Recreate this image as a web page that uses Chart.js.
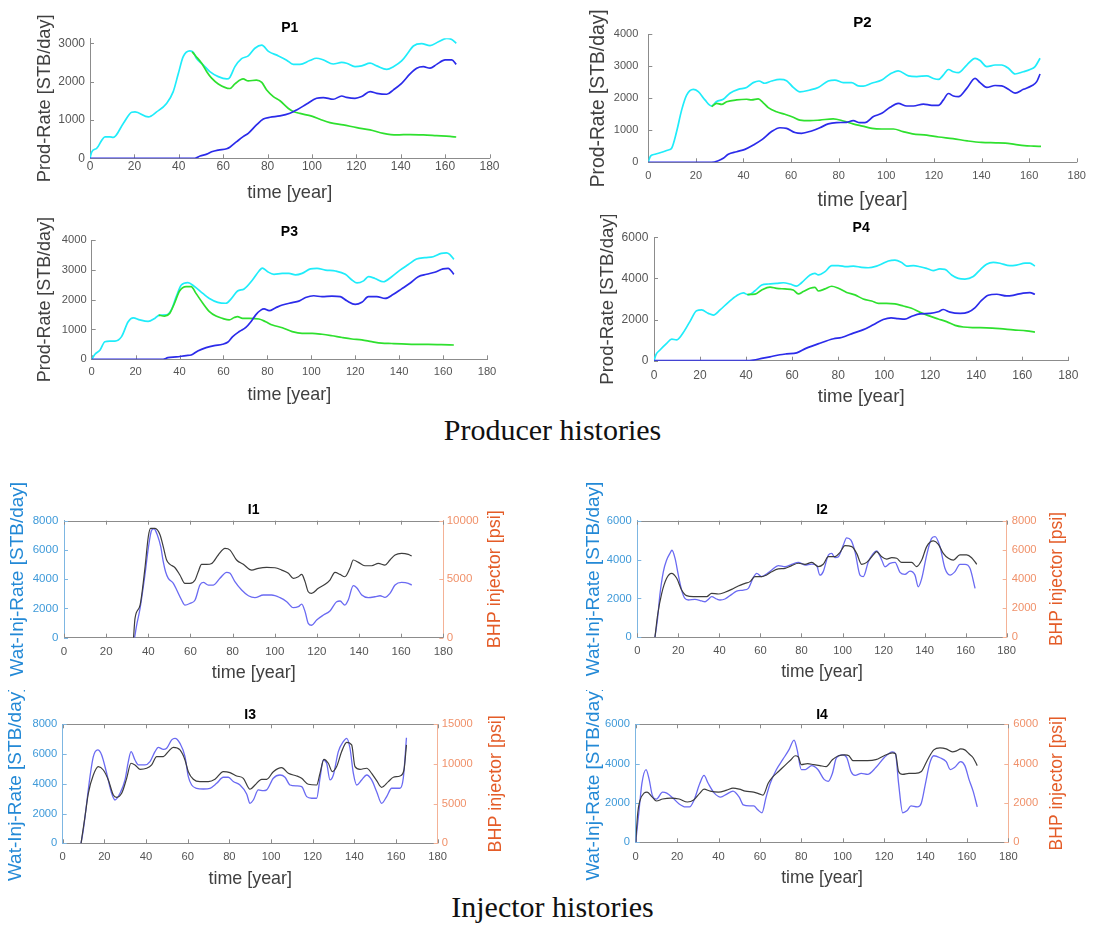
<!DOCTYPE html>
<html>
<head>
<meta charset="utf-8">
<title>Producer and injector histories</title>
<script src="https://cdn.jsdelivr.net/npm/chart.js@4.4.1/dist/chart.umd.min.js"></script>
<style>
  html, body { margin: 0; padding: 0; background: #fff; }
  body { position: relative; width: 1093px; height: 928px; overflow: hidden; }
  canvas { position: absolute; }
  .caption {
    position: absolute; left: 6px; width: 1093px; text-align: center;
    font-family: "Liberation Serif", "Times New Roman", serif;
    font-size: 30px; line-height: 34px; color: #111;
  }
</style>
</head>
<body>
<div class="caption" style="top:413px">Producer histories</div>
<div class="caption" style="top:890px">Injector histories</div>
<script>
/* ===============================
   TICKS
================================ */

const timeTicks = [0, 20, 40, 60, 80, 100, 120, 140, 160, 180];
const p1Ticks = [0, 1000, 2000, 3000];
const p2Ticks = [0, 1000, 2000, 3000, 4000];
const p3Ticks = [0, 1000, 2000, 3000, 4000];
const p4Ticks = [0, 2000, 4000, 6000];
const i1RateTicks = [0, 2000, 4000, 6000, 8000];
const i1BhpTicks = [0, 5000, 10000];
const i2RateTicks = [0, 2000, 4000, 6000];
const i2BhpTicks = [0, 2000, 4000, 6000, 8000];
const i3RateTicks = [0, 2000, 4000, 6000, 8000];
const i3BhpTicks = [0, 5000, 10000, 15000];
const i4RateTicks = [0, 2000, 4000, 6000];
const i4BhpTicks = [0, 2000, 4000, 6000];

/* ===============================
   PRODUCERS  (liquid / oil / water rate, STB/day)
================================ */

const p1LiquidYears = [0, 0.8, 3, 6.8, 9, 10.5, 15, 18.8, 20.3, 26.3, 30, 34.5, 37.5, 39.8, 42, 45, 46.6, 48, 51, 54, 57.8, 61.6, 63, 65.3, 68.3, 71.3, 74.3, 77.4, 80.4, 84.9, 88.6, 91.6, 94.6, 99, 102, 105, 109.6, 113.4, 115.6, 119.4, 122.4, 126.2, 129.2, 133.7, 136.7, 140.4, 143.4, 145.7, 149.4, 153.2, 157, 160.7, 163, 165];
const p1Liquid = [0, 170, 260, 560, 560, 545, 910, 1200, 1210, 1080, 1210, 1430, 1740, 2210, 2650, 2800, 2760, 2600, 2440, 2260, 2130, 2070, 2110, 2390, 2600, 2670, 2870, 2950, 2790, 2670, 2560, 2450, 2450, 2550, 2610, 2570, 2460, 2500, 2480, 2390, 2410, 2480, 2410, 2320, 2390, 2540, 2760, 2930, 2990, 2940, 3040, 3130, 3100, 3000];
const p1OilYears = [46, 47.6, 50.3, 52.6, 54.8, 57.8, 63, 65.3, 69, 71.3, 75, 77.4, 79.6, 82.6, 85.6, 89.4, 91.6, 94.6, 99.9, 103.6, 108.1, 114.1, 120.2, 126.2, 132.2, 138.2, 144.2, 150.2, 156.2, 162.2, 165];
const p1Oil = [2780, 2670, 2480, 2260, 2090, 1940, 1820, 1940, 2070, 2020, 2040, 1980, 1780, 1610, 1500, 1300, 1220, 1170, 1100, 1020, 930, 870, 800, 740, 650, 610, 620, 610, 590, 570, 555];
const p1WaterYears = [0, 47.3, 49.6, 52.6, 54.8, 57.8, 61.6, 63, 66.1, 69, 71.3, 75, 78.1, 81.1, 85.6, 90.1, 93.1, 97.6, 102.1, 105.1, 109.6, 113.4, 115.6, 119.4, 122.4, 126.2, 129.2, 133.7, 136.7, 140.4, 144.2, 147.2, 150.2, 153.2, 156.2, 160, 163, 165];
const p1Water = [0, 0, 60, 110, 170, 215, 250, 290, 435, 565, 650, 870, 1025, 1070, 1105, 1175, 1260, 1415, 1565, 1585, 1540, 1625, 1590, 1565, 1610, 1740, 1695, 1670, 1785, 1955, 2200, 2350, 2390, 2350, 2450, 2565, 2565, 2450];

const p2LiquidYears = [0, 1, 2.8, 6.3, 8.4, 9.8, 11.9, 14, 16.1, 18.9, 21, 23.8, 26.6, 28.7, 31.5, 34.3, 37.8, 41.3, 44.1, 46.5, 49, 51.8, 55.3, 58.1, 60.9, 63.7, 67.9, 71.4, 75.6, 78.4, 81.9, 85.4, 88.2, 90.3, 93.8, 98.1, 101.6, 105, 109.3, 112.8, 117, 119.8, 121.9, 124, 126.1, 128.2, 130.3, 133.8, 137.3, 139.4, 142.2, 145.7, 148.5, 151.3, 154.1, 157.6, 160.4, 162.5, 164.6];
const p2Liquid = [20, 200, 250, 330, 385, 440, 960, 1630, 2100, 2280, 2210, 1950, 1760, 1900, 1970, 2160, 2280, 2340, 2490, 2540, 2470, 2540, 2590, 2550, 2340, 2200, 2260, 2340, 2540, 2570, 2490, 2490, 2390, 2380, 2470, 2570, 2760, 2860, 2700, 2680, 2700, 2620, 2590, 2730, 2900, 2830, 2800, 3040, 3250, 3180, 2990, 3040, 3040, 2940, 2760, 2830, 2900, 2990, 3250];
const p2OilYears = [26.6, 28.7, 30.8, 32.9, 37.1, 41.3, 43.4, 46.2, 48.3, 50.4, 53.9, 57.4, 60.9, 63.7, 67.9, 72.1, 77.7, 82, 86, 90, 94, 98, 103, 107, 111, 117, 122, 128, 134, 140, 146, 150, 154, 158, 162, 165];
const p2Oil = [1740, 1840, 1810, 1890, 1950, 1970, 1950, 1980, 1860, 1710, 1580, 1500, 1410, 1320, 1300, 1320, 1360, 1290, 1200, 1130, 1060, 1040, 1040, 960, 890, 850, 790, 740, 670, 620, 610, 600, 560, 520, 505, 495];
const p2WaterYears = [0, 26.6, 29.4, 31.5, 33.6, 37.1, 40.6, 44.1, 47.6, 51.8, 55.3, 58.1, 61.6, 64.4, 68.6, 72.1, 75.6, 79.1, 83.3, 86.1, 88.9, 91, 94.6, 98.1, 101.6, 105, 108.6, 111.4, 115.6, 119.1, 121.9, 124, 126.1, 128.2, 130.3, 133.8, 137.3, 139.4, 142.2, 145.7, 148.5, 151.3, 154.1, 157.6, 161.1, 163.2, 164.6];
const p2Water = [0, 0, 50, 125, 250, 330, 405, 540, 700, 960, 1080, 1060, 930, 905, 980, 1080, 1200, 1240, 1250, 1300, 1240, 1240, 1430, 1530, 1720, 1840, 1760, 1760, 1820, 1780, 1780, 1950, 2150, 2070, 2050, 2310, 2620, 2490, 2340, 2400, 2390, 2280, 2160, 2280, 2390, 2520, 2760];

const p3LiquidYears = [0, 1.5, 3.8, 6, 8.3, 10.6, 13.6, 16.6, 18.9, 21.9, 25.7, 28.7, 30.9, 34, 36.2, 38.5, 40.8, 43.8, 46.8, 50.6, 53.6, 57.4, 61.1, 63.4, 66.4, 69.4, 73.2, 76.2, 77.7, 80, 83, 86.8, 89.8, 92.8, 95.8, 99.6, 102.6, 106.4, 111, 115.5, 118.5, 120.8, 123.8, 126, 129, 132.8, 136.6, 140.4, 144.2, 147.9, 151.7, 155.5, 159.2, 161.5, 163, 164.9];
const p3Liquid = [0, 170, 310, 590, 610, 610, 760, 1260, 1390, 1320, 1270, 1370, 1480, 1490, 1650, 2100, 2490, 2570, 2440, 2210, 2040, 1910, 1880, 2020, 2290, 2360, 2660, 2960, 3060, 2940, 2850, 2880, 2880, 2830, 2880, 3030, 3050, 2990, 2960, 2850, 2660, 2560, 2630, 2770, 2710, 2600, 2770, 2990, 3180, 3360, 3410, 3440, 3550, 3570, 3520, 3350];
const p3OilYears = [30.5, 33.2, 35.5, 37.7, 40, 43, 45.3, 47.5, 50.6, 53.6, 56.6, 59.6, 62.6, 64.9, 66.4, 68.7, 71.7, 76.2, 79.2, 82.3, 86.8, 91.3, 95.8, 100.4, 104.9, 109.4, 114, 118.5, 123, 127.5, 132, 136.6, 141.1, 147.2, 153.2, 159.2, 164.9];
const p3Oil = [1480, 1450, 1540, 1880, 2290, 2440, 2440, 2210, 1880, 1600, 1450, 1370, 1320, 1400, 1430, 1370, 1370, 1350, 1260, 1150, 1060, 930, 870, 870, 840, 790, 730, 680, 650, 590, 540, 530, 520, 500, 500, 490, 480];
const p3WaterYears = [0, 32.5, 34.7, 38.5, 43, 45.3, 48.3, 52.1, 55.8, 59.6, 61.9, 64.2, 67.2, 70.2, 72.5, 74.7, 77, 78.5, 80.8, 83.8, 86.8, 91.3, 94.3, 97.4, 101.1, 104.9, 109.4, 113.2, 116.2, 120, 123, 126, 129.8, 133.6, 137.4, 141.1, 144.9, 148.7, 152.5, 156.2, 160, 162.3, 164.9];
const p3Water = [0, 0, 55, 80, 125, 145, 280, 390, 460, 505, 570, 760, 930, 1070, 1260, 1490, 1650, 1690, 1630, 1730, 1820, 1900, 1950, 2070, 2130, 2100, 2120, 2100, 1960, 1840, 1910, 2100, 2100, 2040, 2180, 2360, 2550, 2770, 2850, 2920, 3030, 3050, 2850];

const p4LiquidYears = [0, 0.9, 2.6, 5.5, 7.7, 9.8, 12, 15.6, 18.5, 20.7, 23.6, 25.8, 28.7, 32.3, 35.9, 38.8, 41, 43.9, 46.8, 49.7, 53.3, 56.2, 59.1, 62, 64.1, 67.8, 69.9, 71.4, 74.3, 77.2, 80.1, 83.7, 86.6, 90.2, 93.1, 96.7, 98.9, 101.8, 104.7, 107.6, 109.8, 112.7, 115.6, 118.4, 121.3, 124.2, 126.4, 129.3, 132.2, 135.1, 138.7, 141.6, 144.5, 147.4, 150.3, 154.6, 157.5, 161.2, 163.3, 165.5];
const p4Liquid = [0, 310, 520, 840, 1050, 1010, 1250, 1900, 2430, 2470, 2300, 2220, 2470, 2840, 3160, 3300, 3200, 3400, 3680, 3730, 3760, 3790, 3730, 3630, 3790, 4170, 4250, 4170, 4330, 4620, 4620, 4570, 4600, 4540, 4520, 4600, 4700, 4850, 4890, 4770, 4600, 4620, 4570, 4490, 4380, 4460, 4440, 4170, 4000, 3970, 4090, 4410, 4690, 4780, 4740, 4620, 4650, 4740, 4740, 4600];
const p4OilYears = [40.5, 43.9, 46.8, 50.4, 53.3, 56.9, 60.5, 62.7, 64.9, 67.8, 69.9, 71.4, 74.3, 77.2, 80.1, 83.7, 87.3, 90.9, 94.6, 97.5, 101, 104.7, 108.3, 111.9, 115.6, 119.2, 123.5, 127.1, 130.8, 134.4, 138.7, 144.5, 150.3, 156.1, 161.9, 165.5];
const p4Oil = [3220, 3240, 3440, 3580, 3520, 3490, 3440, 3250, 3360, 3520, 3570, 3390, 3490, 3620, 3520, 3320, 3200, 3000, 2900, 2790, 2790, 2760, 2660, 2550, 2350, 2190, 2030, 1900, 1720, 1640, 1610, 1600, 1560, 1500, 1450, 1390];
const p4WaterYears = [0, 40.3, 43.2, 46.8, 50.4, 54.7, 57.6, 62, 66, 72, 78, 81.5, 86.6, 91, 95.3, 99.6, 103, 106, 109, 112, 115.6, 120, 123.5, 125.7, 128.6, 133, 136.5, 139.4, 142.3, 145.2, 148.9, 153.2, 156, 160.4, 163.3, 165.5];
const p4Water = [0, 0, 30, 110, 190, 290, 330, 380, 600, 850, 1065, 1130, 1340, 1510, 1750, 2000, 2080, 2050, 2020, 2160, 2280, 2300, 2380, 2490, 2360, 2300, 2360, 2570, 2930, 3180, 3230, 3150, 3180, 3290, 3310, 3230];

/* ===============================
   INJECTORS  (water rate STB/day, BHP psi)
================================ */

const i1RateYears = [33.5, 34.5, 36.1, 38.4, 40, 41.6, 42.7, 44.3, 45.9, 47.1, 48.2, 49.5, 51.9, 53.5, 55.8, 57.4, 59.8, 62.2, 64.5, 66.1, 68.5, 70.9, 74, 77.2, 78.8, 81.1, 84.3, 87.5, 90.6, 94.6, 98.5, 102.5, 105.7, 108.8, 111.2, 112.8, 114.4, 115.9, 117.5, 119.9, 123.1, 126.2, 129.4, 131, 133.3, 134.9, 137.3, 138.9, 141.3, 144.4, 147.6, 150, 152.3, 154.7, 157.1, 160.2, 163.4, 165];
const i1Rate = [0, 870, 2000, 4290, 6110, 7360, 7450, 7020, 6220, 5200, 4510, 4060, 3720, 3260, 2580, 2230, 2350, 2580, 3600, 3780, 3600, 3600, 4060, 4470, 4400, 3830, 3260, 2870, 2740, 2920, 2920, 2740, 2460, 2050, 2120, 2300, 1780, 980, 850, 1210, 1550, 1820, 2460, 2510, 2230, 2580, 3560, 3420, 2920, 2740, 2800, 2870, 2760, 3030, 3600, 3780, 3720, 3600];
const i1BhpYears = [33, 33.7, 36.1, 38.4, 40, 41.1, 43.2, 45.6, 47.1, 48.7, 50.3, 52.7, 55, 57.4, 59.8, 62.2, 63.7, 65.3, 67.7, 70.1, 73.2, 76.4, 78.8, 81.9, 85.1, 89.1, 92.2, 96.2, 100.1, 103.3, 106.5, 108.8, 111.2, 112.8, 114.4, 115.9, 117.5, 120.7, 123.9, 126.2, 128.6, 131, 133.3, 135.7, 137.3, 139.7, 142.8, 146, 149.2, 152.3, 154.7, 157.1, 160.2, 163.4, 165];
const i1Bhp = [0, 1650, 2790, 5930, 8630, 9340, 9340, 8780, 7780, 6640, 6270, 5980, 5360, 4640, 4640, 4930, 5640, 6270, 6270, 6350, 7070, 7630, 7490, 6640, 6270, 5780, 5930, 6010, 5980, 5780, 5500, 5070, 5210, 5410, 4790, 3930, 3790, 4220, 4560, 4930, 5580, 5410, 5210, 5930, 6640, 6440, 6150, 6150, 6350, 6210, 6640, 7070, 7210, 7120, 6980];

const i2RateYears = [8.6, 9.9, 11, 12.7, 14.3, 15.9, 16.9, 18.4, 20, 21.6, 23.2, 24.9, 28.1, 31.4, 33, 34.6, 36.2, 38.7, 40.3, 42.7, 46, 48.4, 51.7, 54.1, 56.5, 58.2, 60.6, 63, 65.5, 68.7, 72, 75.2, 78.5, 81.7, 85, 87.4, 89, 90.6, 93.1, 94.7, 96.3, 98, 100.4, 102, 104.1, 106.1, 108.5, 110.1, 112.6, 115, 116.6, 119.1, 120.7, 123.1, 125.6, 128, 130.4, 132.9, 135.3, 136.9, 138.6, 141, 143.4, 145.1, 147.5, 149.9, 152.4, 154.8, 157.2, 159.7, 162.1, 164.6];
const i2Rate = [0, 980, 2180, 3380, 3980, 4320, 4480, 4060, 3200, 2430, 2000, 1920, 1950, 1870, 1830, 1950, 2090, 1970, 1920, 1970, 2210, 2380, 2430, 2520, 3070, 3290, 3120, 3260, 3460, 3690, 3630, 3750, 3860, 3720, 3770, 3690, 3200, 3380, 4230, 4320, 4100, 4150, 4750, 5120, 5000, 4400, 3200, 3120, 3890, 4320, 4440, 3980, 3630, 3800, 3860, 3340, 3240, 3410, 3200, 2600, 3030, 4230, 5090, 5180, 4660, 3550, 3200, 3380, 3750, 3750, 3550, 2520];
const i2BhpYears = [8.6, 9.9, 11.9, 14.3, 16.7, 19.2, 21.6, 24, 27.3, 31.4, 33.8, 36.2, 39.5, 42.7, 46, 49.2, 52.5, 54.9, 57.3, 60.6, 63, 65.5, 68.7, 72, 75.2, 78.5, 81.7, 85, 88.2, 90.6, 93.1, 96.3, 98.8, 101.2, 104.5, 106.9, 109.3, 111.8, 115, 116.6, 119.1, 121.5, 124, 126.4, 128.8, 131.3, 133.7, 136.1, 138.6, 141, 144.3, 146.7, 149.1, 151.6, 154, 157.2, 160.5, 162.9, 165.4];
const i2Bhp = [0, 1530, 3020, 4050, 4390, 4050, 3250, 2860, 2790, 2790, 2790, 3020, 2970, 3090, 3290, 3520, 3700, 3820, 4160, 4160, 4280, 4500, 4690, 4730, 4920, 5080, 5010, 5140, 4850, 5010, 5530, 5530, 5830, 6290, 6220, 5760, 5010, 5140, 5650, 5880, 5530, 5370, 5460, 5420, 5140, 5140, 5140, 4850, 5300, 6220, 6610, 6380, 5760, 5420, 5300, 5650, 5650, 5460, 5010];

const i3RateYears = [8.8, 9.9, 11.5, 13.1, 14.7, 16.8, 18.7, 21.1, 23.5, 25.1, 27.5, 29.9, 31.5, 32.8, 34.7, 36.3, 39.5, 41.9, 44.3, 45.9, 48.3, 49.9, 52.3, 53.9, 56.3, 58.7, 60.3, 61.9, 64.3, 67.5, 70.7, 73.9, 77.1, 79.5, 81.9, 85.1, 88.3, 89.9, 91.5, 93.9, 96.3, 97.9, 101.1, 104.3, 106.7, 109.1, 112.3, 114.7, 117.1, 119.5, 121.9, 123.5, 125.1, 126.7, 128.3, 129.9, 132.3, 134.7, 136.3, 137.9, 139.5, 141.1, 143.5, 145.9, 148.3, 150.7, 153.1, 155.5, 157.9, 161.9, 163.5, 165];
const i3Rate = [0, 900, 2690, 4480, 5830, 6280, 5940, 4710, 3360, 2910, 3360, 4260, 5490, 6160, 5600, 5270, 5270, 5490, 6160, 6450, 6320, 6390, 6950, 7060, 6720, 5830, 4480, 3920, 3700, 3650, 3700, 4030, 4440, 4440, 4150, 3920, 3320, 2690, 2910, 3590, 3540, 3590, 4370, 4590, 4440, 3920, 3860, 3810, 3140, 3030, 3030, 4370, 5600, 5380, 4260, 4590, 6160, 6840, 7060, 6390, 4710, 3920, 4260, 4590, 4260, 3470, 2690, 3140, 3700, 3700, 4400, 7100];
const i3BhpYears = [8.8, 10.7, 12.3, 14.7, 17.1, 19.5, 21.9, 24.3, 25.9, 28.3, 30.7, 32.8, 34.7, 37.1, 40.3, 42.7, 45.1, 48.3, 50.7, 53.1, 56.3, 58.7, 60.3, 62.7, 65.9, 69.9, 73.1, 77.1, 80.3, 83.5, 86.7, 89.9, 92.3, 95.5, 97.9, 101.1, 105.1, 108.3, 112.3, 114.7, 117.9, 121.9, 123.5, 125.4, 127.5, 129.4, 131.5, 133.9, 136.3, 138.7, 140.3, 142.7, 145.9, 148.3, 150.7, 153.1, 156.3, 158.7, 161.9, 163.8, 165];
const i3Bhp = [0, 3360, 6300, 8610, 9670, 9240, 7980, 6090, 5800, 6300, 8190, 10090, 9880, 9330, 9460, 9880, 10930, 10930, 11560, 12100, 11770, 10510, 9030, 8070, 7770, 7770, 8070, 9030, 8910, 8490, 8190, 6810, 7350, 8070, 8070, 9030, 9540, 8820, 8490, 8190, 7440, 7350, 8820, 10590, 10090, 9030, 9670, 11560, 12730, 12400, 9670, 9330, 9460, 8820, 7900, 7060, 7770, 8320, 8490, 9240, 12400];

const i4RateYears = [0, 1.5, 3, 5, 6.5, 8, 10, 13, 15, 18, 21, 24, 26, 28, 31, 33, 35, 38, 41, 44, 47, 50, 52, 55, 57, 59, 61, 63, 65, 68, 71, 74, 76.5, 78, 80, 82, 85, 88, 91, 93, 95, 97, 100, 102, 104, 106, 109, 112, 116, 120, 124, 125.5, 127, 129, 131, 133, 136, 138, 140, 142, 144, 147, 150, 152, 154, 157, 159, 161, 163, 165];
const i4Rate = [0, 1500, 3000, 3700, 3200, 2400, 2200, 2550, 2500, 2250, 1950, 1800, 1800, 2100, 3000, 3400, 3000, 2500, 2300, 2450, 2600, 2300, 1900, 1850, 1850, 1650, 1500, 2300, 3000, 3700, 4200, 4700, 5200, 4700, 3700, 3700, 3900, 3700, 3200, 3100, 3500, 4300, 4450, 4300, 3600, 3400, 3500, 3450, 3800, 4300, 4600, 4500, 3000, 1500, 1600, 1850, 1800, 2000, 3000, 4000, 4400, 4300, 4100, 3700, 3800, 4100, 3900, 3200, 2600, 1800];
const i4BhpYears = [0, 1, 2, 4, 5.5, 8, 10, 13, 17, 21, 25, 28, 31, 33, 36, 40, 44, 47, 50, 53, 57, 60, 61.5, 64, 66, 69, 72, 75, 77, 78.5, 80, 83, 86, 89, 92, 95, 98, 101, 103, 105, 108, 112, 116, 120, 124, 125.5, 127, 129, 132, 135, 138, 141, 144, 147, 150, 153, 155, 157, 159, 161, 163, 165];
const i4Bhp = [0, 1500, 2100, 2500, 2550, 2300, 2100, 2200, 2250, 2200, 2050, 2150, 2500, 2700, 2600, 2550, 2650, 2750, 2700, 2600, 2550, 2450, 2400, 3000, 3300, 3600, 3900, 4200, 4400, 4350, 3950, 4000, 3950, 3900, 3850, 4200, 4400, 4450, 4400, 4150, 4150, 4150, 4200, 4400, 4550, 4500, 3600, 3450, 3500, 3500, 3600, 4200, 4700, 4800, 4750, 4600, 4650, 4750, 4700, 4500, 4300, 3900];

/* ===============================
   STYLE
================================ */

const FONT = '"Liberation Sans", Arial, Helvetica, sans-serif';
const CYAN = '#1fecfa', GREEN = '#2ee02e', BLUE = '#2b2bea';
const RATE = '#6a6af2', BHP = '#3d3d3d';
const AXIS = '#8c8c8c', TICK = '#555555', LABEL = '#404040';
const LEFT_TICK = '#3f9ad9', LEFT_LABEL = '#2389d6', LEFT_LINE = '#7db6e2';
const RIGHT_TICK = '#f0916a', RIGHT_LABEL = '#e45c28', RIGHT_LINE = '#f4b296';

function pts(t, v) {
  return t.map((x, i) => ({ x: x, y: v[i] }));
}

function curve(t, v, color, width, axis) {
  return {
    data: pts(t, v),
    borderColor: color,
    borderWidth: width,
    pointRadius: 0,
    fill: false,
    cubicInterpolationMode: 'monotone',
    yAxisID: axis || 'y'
  };
}

function fixedTicks(values) {
  return s => { s.ticks = values.map(v => ({ value: v })); };
}

// short tick marks pointing into the plot, plus the top frame line on twin-axis plots
const innerTicks = {
  id: 'innerTicks',
  beforeDatasetsDraw(chart, args, o) {
    const { ctx, chartArea: a, scales } = chart;
    const len = 4;
    ctx.save();
    ctx.lineWidth = 1;

    ctx.strokeStyle = AXIS;
    ctx.beginPath();
    scales.x.ticks.forEach(tk => {
      const px = Math.round(scales.x.getPixelForValue(tk.value)) + 0.5;
      ctx.moveTo(px, a.bottom);
      ctx.lineTo(px, a.bottom - len);
      if (o.boxed) {
        ctx.moveTo(px, a.top);
        ctx.lineTo(px, a.top + len);
      }
    });
    if (o.boxed) {
      ctx.moveTo(a.left, Math.round(a.top) + 0.5);
      ctx.lineTo(a.right, Math.round(a.top) + 0.5);
    }
    ctx.stroke();

    ctx.strokeStyle = o.leftColor;
    ctx.beginPath();
    scales.y.ticks.forEach(tk => {
      const py = Math.round(scales.y.getPixelForValue(tk.value)) + 0.5;
      ctx.moveTo(a.left, py);
      ctx.lineTo(a.left + len, py);
    });
    ctx.stroke();

    if (scales.y2) {
      ctx.strokeStyle = o.rightColor;
      ctx.beginPath();
      scales.y2.ticks.forEach(tk => {
        const py = Math.round(scales.y2.getPixelForValue(tk.value)) + 0.5;
        ctx.moveTo(a.right, py);
        ctx.lineTo(a.right - len, py);
      });
      ctx.stroke();
    }
    ctx.restore();
  }
};

// right-hand axis title, reading bottom to top
const sideTitle = {
  id: 'sideTitle',
  afterDraw(chart, args, o) {
    if (!o.text) return;
    const { ctx, chartArea: a } = chart;
    ctx.save();
    ctx.translate(o.x, (a.top + a.bottom) / 2);
    ctx.rotate(-Math.PI / 2);
    ctx.font = `${o.size}px ${FONT}`;
    ctx.fillStyle = o.color;
    ctx.textAlign = 'center';
    ctx.textBaseline = 'middle';
    ctx.fillText(o.text, 0, 0);
    ctx.restore();
  }
};

/* ===============================
   PANEL
================================ */

function panel(p) {
  const lh = p.labelSize * 1.2;
  const ylh = p.yLabelSize * 1.2;
  const th = p.titleSize * 1.2;
  const d = p.t - p.titleY;

  const left = Math.round(p.yTitleX - ylh / 2);
  const top = p.top;
  const ml = p.l - left;
  const padTop = (p.t - top) - d - th / 2;
  const bottom = Math.round(p.xTitleY + lh / 2);
  const right = Math.round(p.r + (p.twin ? p.mr : 22));
  const w = right - left;
  const h = bottom - top;
  const mr = right - p.r;

  const canvas = document.createElement('canvas');
  canvas.width = w;
  canvas.height = h;
  canvas.style.left = left + 'px';
  canvas.style.top = top + 'px';
  canvas.style.width = w + 'px';
  canvas.style.height = h + 'px';
  document.body.appendChild(canvas);

  const tickFont = { family: FONT, size: p.tickSize };

  const scales = {
    x: {
      type: 'linear',
      min: 0,
      max: 180,
      afterBuildTicks: fixedTicks(timeTicks),
      afterFit: s => { s.height = bottom - p.b; },
      grid: { display: false, drawTicks: false },
      border: { display: true, color: AXIS, width: 1 },
      ticks: {
        padding: p.xPad, color: TICK, font: tickFont,
        maxRotation: 0, autoSkip: false, callback: v => v
      },
      title: {
        display: true, text: 'time [year]', color: LABEL,
        font: { family: FONT, size: p.labelSize }, padding: 0
      }
    },
    y: {
      type: 'linear',
      position: 'left',
      min: 0,
      max: p.ymax,
      afterBuildTicks: fixedTicks(p.yTicks),
      afterFit: s => { s.width = ml; },
      grid: { display: false, drawTicks: false },
      border: { display: true, color: p.twin ? LEFT_LINE : AXIS, width: 1 },
      ticks: {
        padding: p.yPad, color: p.twin ? LEFT_TICK : TICK,
        font: tickFont, autoSkip: false, callback: v => v
      },
      title: {
        display: true, text: p.yLabel, color: p.twin ? LEFT_LABEL : LABEL,
        font: { family: FONT, size: p.yLabelSize }, padding: 0
      }
    }
  };

  if (p.twin) {
    scales.y2 = {
      type: 'linear',
      position: 'right',
      min: 0,
      max: p.y2max,
      afterBuildTicks: fixedTicks(p.y2Ticks),
      afterFit: s => { s.width = mr; },
      grid: { display: false, drawTicks: false },
      border: { display: true, color: RIGHT_LINE, width: 1 },
      ticks: {
        padding: p.y2Pad, color: RIGHT_TICK, font: tickFont,
        autoSkip: false, callback: v => v
      },
      title: { display: false }
    };
  }

  new Chart(canvas, {
    type: 'line',
    data: { datasets: p.datasets },
    options: {
      responsive: false,
      animation: false,
      devicePixelRatio: 1,
      events: [],
      layout: { padding: { top: padTop, left: 0, bottom: 0, right: p.twin ? 0 : mr } },
      scales: scales,
      plugins: {
        legend: { display: false },
        tooltip: { enabled: false },
        title: {
          display: true,
          text: p.title,
          fullSize: false,
          color: '#000',
          font: { family: FONT, size: p.titleSize, weight: 'bold' },
          padding: { top: 0, bottom: d - th / 2 }
        },
        innerTicks: {
          boxed: !!p.twin,
          leftColor: p.twin ? LEFT_LINE : AXIS,
          rightColor: RIGHT_LINE
        },
        sideTitle: p.twin
          ? { text: 'BHP injector [psi]', x: p.y2TitleX - left, size: p.labelSize, color: RIGHT_LABEL }
          : { text: '' }
      }
    },
    plugins: [innerTicks, sideTitle]
  });
}

function producer(liq, oil, wat) {
  return [
    curve(wat[0], wat[1], BLUE, 1.7),
    curve(oil[0], oil[1], GREEN, 1.7),
    curve(liq[0], liq[1], CYAN, 1.7)
  ];
}

function injector(rate, bhp) {
  return [
    curve(bhp[0], bhp[1], BHP, 1.2, 'y2'),
    curve(rate[0], rate[1], RATE, 1.3, 'y')
  ];
}

const PROD_LABEL = 'Prod-Rate [STB/day]';
const INJ_LABEL = 'Wat-Inj-Rate [STB/day]';

panel({
  title: 'P1', top: 0, l: 90, t: 38.3, r: 489.5, b: 158.3, ymax: 3130, yTicks: p1Ticks,
  titleY: 28, titleSize: 14, tickSize: 12, labelSize: 18.2, yLabelSize: 18.2,
  yTitleX: 45, xTitleY: 193, xPad: 1.5, yPad: 5, yLabel: PROD_LABEL,
  datasets: producer([p1LiquidYears, p1Liquid], [p1OilYears, p1Oil], [p1WaterYears, p1Water])
});

panel({
  title: 'P2', top: 0, l: 648.3, t: 34.3, r: 1076.7, b: 162.3, ymax: 4000, yTicks: p2Ticks,
  titleY: 23, titleSize: 15, tickSize: 11, labelSize: 19.3, yLabelSize: 19.3,
  yTitleX: 598.3, xTitleY: 200, xPad: 7.5, yPad: 10, yLabel: PROD_LABEL,
  datasets: producer([p2LiquidYears, p2Liquid], [p2OilYears, p2Oil], [p2WaterYears, p2Water])
});

panel({
  title: 'P3', top: 212, l: 91.7, t: 240, r: 487, b: 359.3, ymax: 4000, yTicks: p3Ticks,
  titleY: 231.7, titleSize: 14, tickSize: 11.2, labelSize: 17.9, yLabelSize: 17.9,
  yTitleX: 45, xTitleY: 395, xPad: 5.5, yPad: 5, yLabel: PROD_LABEL,
  datasets: producer([p3LiquidYears, p3Liquid], [p3OilYears, p3Oil], [p3WaterYears, p3Water])
});

panel({
  title: 'P4', top: 215, l: 654, t: 237.3, r: 1068.3, b: 360.7, ymax: 6000, yTicks: p4Ticks,
  titleY: 227.7, titleSize: 14, tickSize: 12, labelSize: 18.6, yLabelSize: 18.6,
  yTitleX: 608, xTitleY: 396.7, xPad: 8, yPad: 5.7, yLabel: PROD_LABEL,
  datasets: producer([p4LiquidYears, p4Liquid], [p4OilYears, p4Oil], [p4WaterYears, p4Water])
});

panel({
  title: 'I1', twin: true, top: 470, l: 64, t: 520.7, r: 443.3, b: 637.7,
  ymax: 8000, yTicks: i1RateTicks, y2max: 10000, y2Ticks: i1BhpTicks, mr: 64,
  titleY: 510, titleSize: 14, tickSize: 11.5, labelSize: 18, yLabelSize: 19,
  yTitleX: 17, y2TitleX: 495, xTitleY: 673, xPad: 7.5, yPad: 5.7, y2Pad: 3.4, yLabel: INJ_LABEL,
  datasets: injector([i1RateYears, i1Rate], [i1BhpYears, i1Bhp])
});

panel({
  title: 'I2', twin: true, top: 470, l: 637.3, t: 520.7, r: 1006.7, b: 637.3,
  ymax: 6000, yTicks: i2RateTicks, y2max: 8000, y2Ticks: i2BhpTicks, mr: 64,
  titleY: 510, titleSize: 14, tickSize: 11.2, labelSize: 17.5, yLabelSize: 19,
  yTitleX: 593.3, y2TitleX: 1056.7, xTitleY: 672, xPad: 6.5, yPad: 5.6, y2Pad: 5, yLabel: INJ_LABEL,
  datasets: injector([i2RateYears, i2Rate], [i2BhpYears, i2Bhp])
});

panel({
  title: 'I3', twin: true, top: 690, l: 62.7, t: 724.3, r: 437.7, b: 843.3,
  ymax: 8000, yTicks: i3RateTicks, y2max: 15000, y2Ticks: i3BhpTicks, mr: 70,
  titleY: 715, titleSize: 14, tickSize: 11.2, labelSize: 17.9, yLabelSize: 19,
  yTitleX: 15, y2TitleX: 495.7, xTitleY: 879.3, xPad: 6.5, yPad: 5.4, y2Pad: 4, yLabel: INJ_LABEL,
  datasets: injector([i3RateYears, i3Rate], [i3BhpYears, i3Bhp])
});

panel({
  title: 'I4', twin: true, top: 690, l: 635.7, t: 724.3, r: 1008.3, b: 842.3,
  ymax: 6000, yTicks: i4RateTicks, y2max: 6000, y2Ticks: i4BhpTicks, mr: 64,
  titleY: 715, titleSize: 14, tickSize: 11.2, labelSize: 17.5, yLabelSize: 19,
  yTitleX: 593.3, y2TitleX: 1057, xTitleY: 878, xPad: 7.5, yPad: 5.7, y2Pad: 5, yLabel: INJ_LABEL,
  datasets: injector([i4RateYears, i4Rate], [i4BhpYears, i4Bhp])
});
</script>
</body>
</html>
